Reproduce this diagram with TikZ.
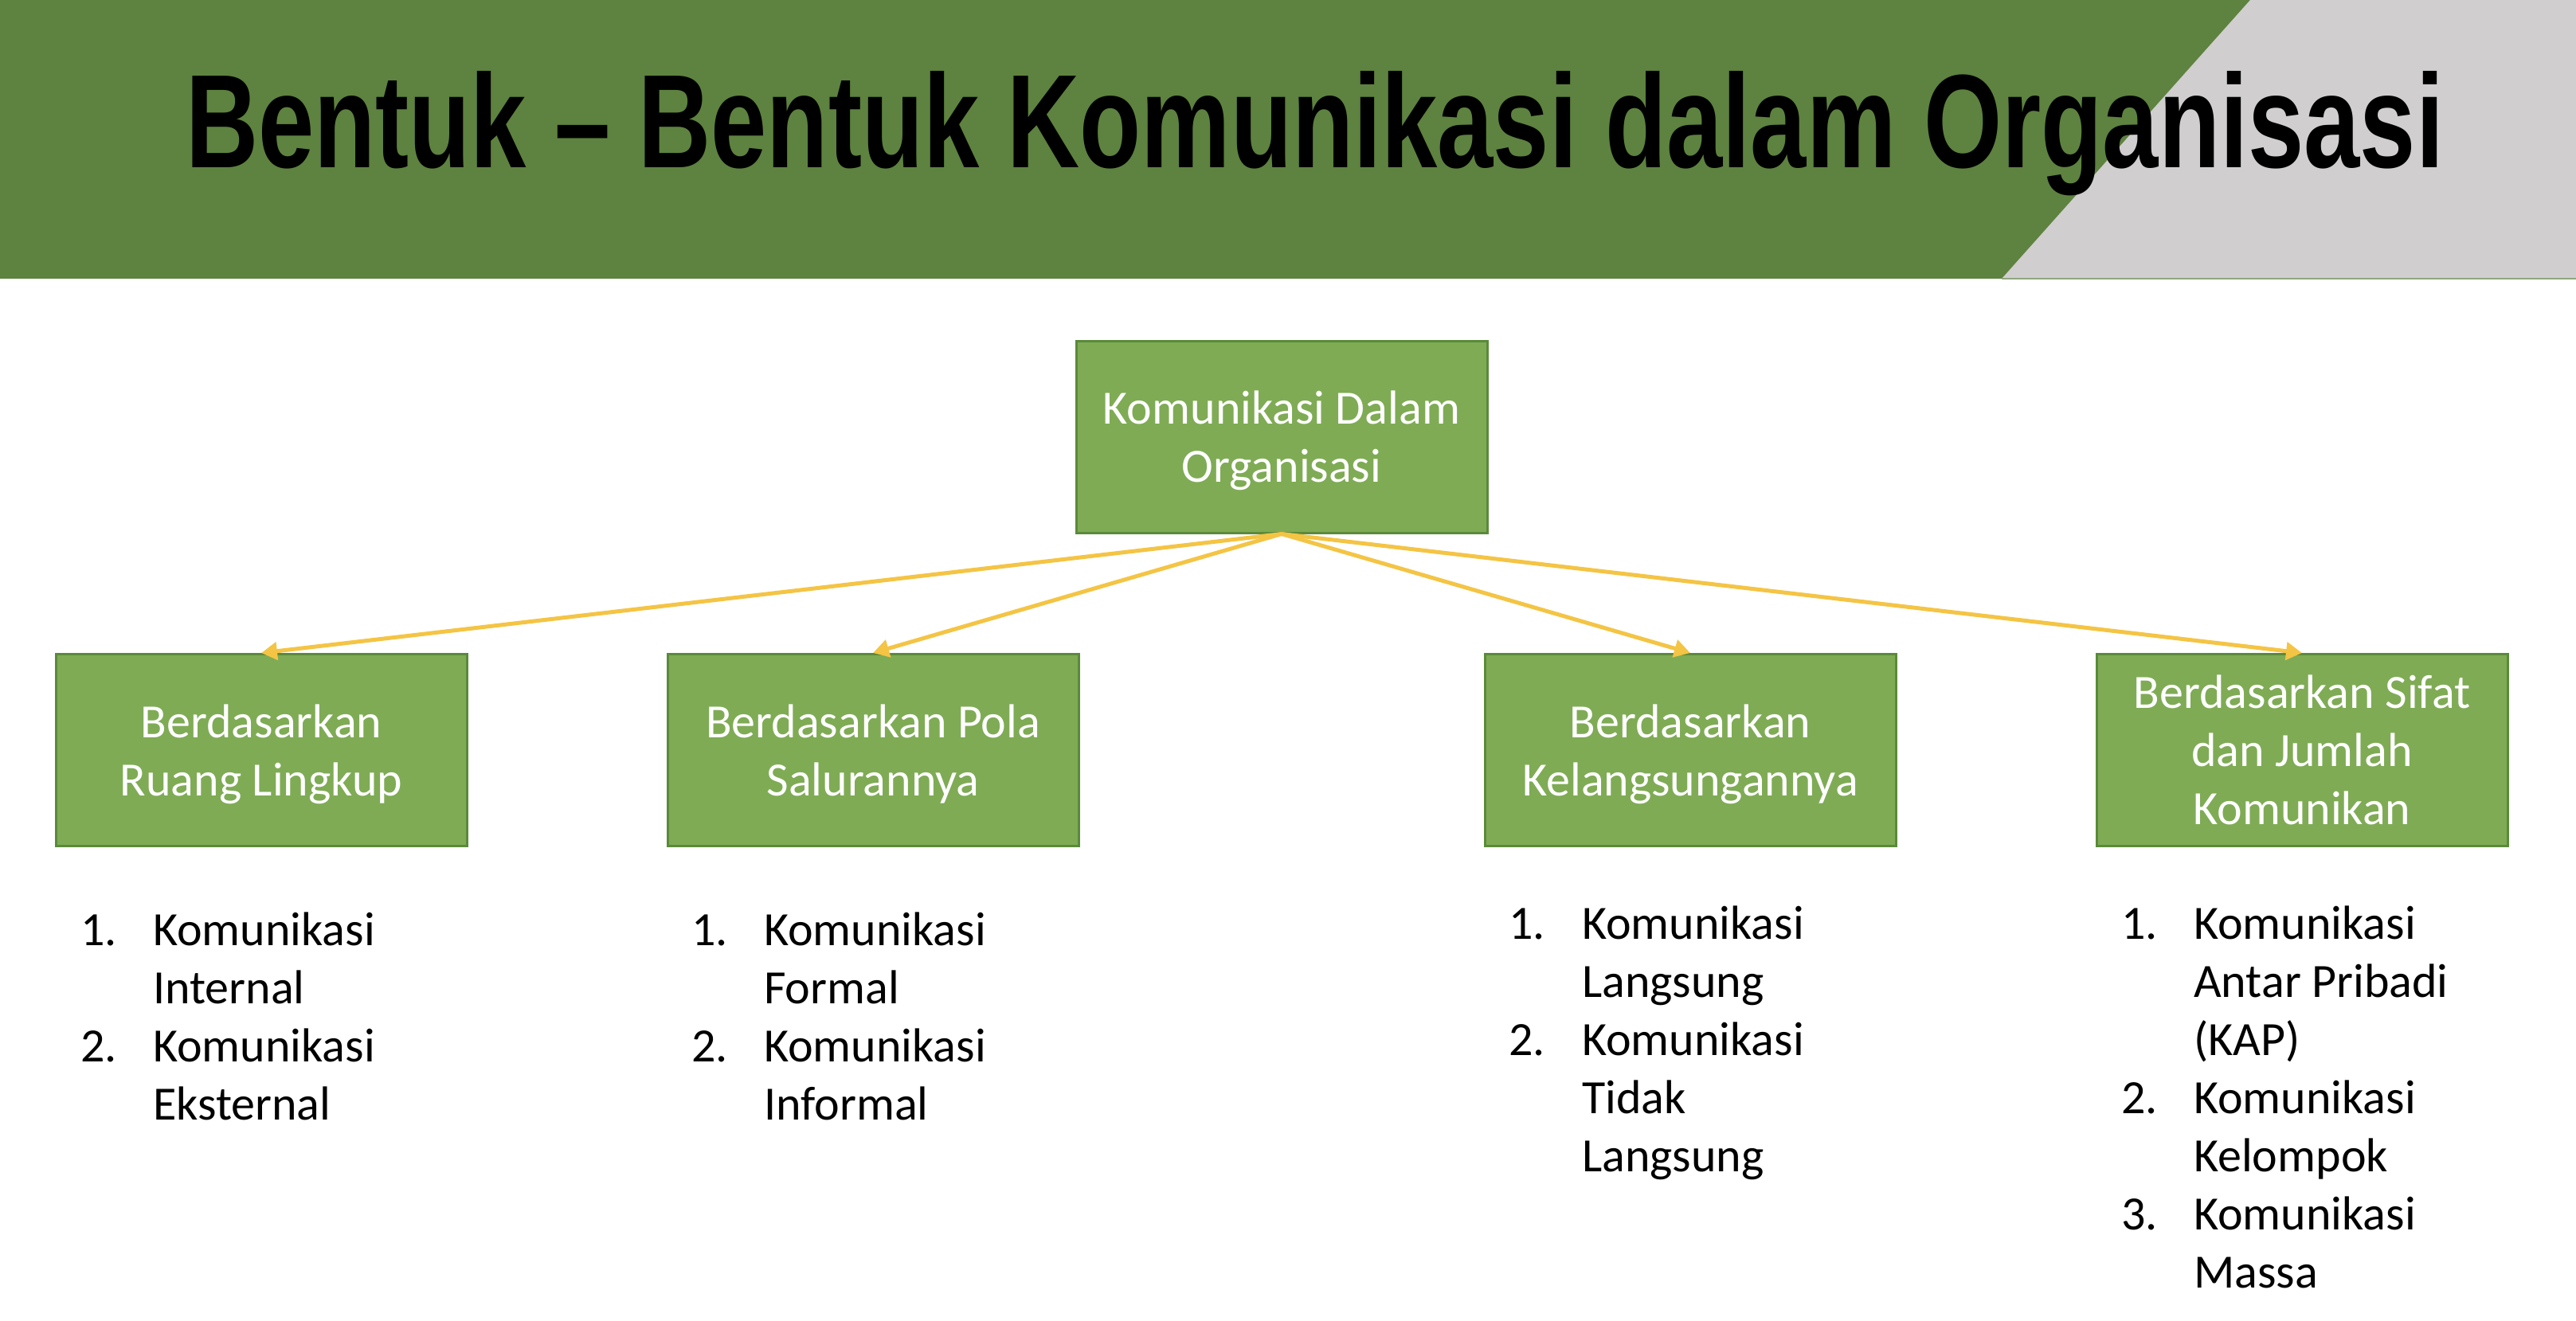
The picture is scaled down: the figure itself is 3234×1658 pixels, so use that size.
\documentclass[tikz,border=0pt]{standalone}
\usepackage{fontspec}
\setmainfont{Carlito}
\newfontfamily\titlefont{Liberation Sans}
\usetikzlibrary{arrows.meta}
\definecolor{bandgreen}{HTML}{5E823F}
\definecolor{bandgray}{HTML}{D0CECE}
\definecolor{bandline}{HTML}{8FA67E}
\definecolor{boxfill}{HTML}{7FAB55}
\definecolor{boxedge}{HTML}{5A8A3A}
\definecolor{arrowyellow}{HTML}{F4C444}
\newcommand{\nodepth}[1]{\raisebox{0pt}[\height][0pt]{#1}}
\begin{document}
\begin{tikzpicture}[x=1pt,y=-1pt,
  box/.style={draw=boxedge, fill=boxfill, line width=3pt, text=white, align=center,
    inner sep=0pt, minimum width=516pt, minimum height=241pt,
    font=\fontsize{60}{73}\selectfont},
  listtext/.style={anchor=base west, inner sep=0pt, text=black,
    font=\fontsize{60}{73}\selectfont},
  conn/.style={draw=arrowyellow, line width=5pt, -{Triangle[length=20pt,width=22pt]}}]
\useasboundingbox (0,0) rectangle (3234,1658);
\fill[white] (0,0) rectangle (3234,1658);
% header band
\fill[bandgreen] (0,0) rectangle (3234,350);
\fill[bandgray] (2825,0) -- (3234,0) -- (3234,350) -- (2513,350) -- cycle;
\draw[bandline, line width=2pt] (2513,350) -- (3234,350);
\node[anchor=base west, inner sep=0pt] (title) at (233,210)
  {\resizebox{2835pt}{121pt}{\titlefont\bfseries Bentuk – Bentuk Komunikasi dalam Organisasi}};
% boxes
\node[box] (top) at (1609,548.5) {Komunikasi Dalam\\\nodepth{Organisasi}};
\node[box] (b1) at (328,942) {Berdasarkan\\\nodepth{Ruang Lingkup}};
\node[box] (b2) at (1096,942) {Berdasarkan Pola\\\nodepth{Salurannya}};
\node[box] (b3) at (2122,942) {Berdasarkan\\\nodepth{Kelangsungannya}};
\node[box] (b4) at (2890,942) {Berdasarkan Sifat\\dan Jumlah\\Komunikan};
% connectors
\draw[conn] (top.south) -- (b1.north);
\draw[conn] (top.south) -- (b2.north);
\draw[conn] (top.south) -- (b3.north);
\draw[conn] (top.south) -- (b4.north);
% lists
\node[listtext] (l1) at (101,1187) {\begin{tabular}[t]{@{}p{91pt}@{}l@{}}1. & Komunikasi\\ & Internal\\ 2. & Komunikasi\\ & Eksternal\end{tabular}};
\node[listtext] (l2) at (868,1187) {\begin{tabular}[t]{@{}p{91pt}@{}l@{}}1. & Komunikasi\\ & Formal\\ 2. & Komunikasi\\ & Informal\end{tabular}};
\node[listtext] (l3) at (1894,1179) {\begin{tabular}[t]{@{}p{92pt}@{}l@{}}1. & Komunikasi\\ & Langsung\\ 2. & Komunikasi\\ & Tidak\\ & Langsung\end{tabular}};
\node[listtext] (l4) at (2663,1179) {\begin{tabular}[t]{@{}p{91pt}@{}l@{}}1. & Komunikasi\\ & Antar Pribadi\\ & (KAP)\\ 2. & Komunikasi\\ & Kelompok\\ 3. & Komunikasi\\ & Massa\end{tabular}};
\end{tikzpicture}
\end{document}
